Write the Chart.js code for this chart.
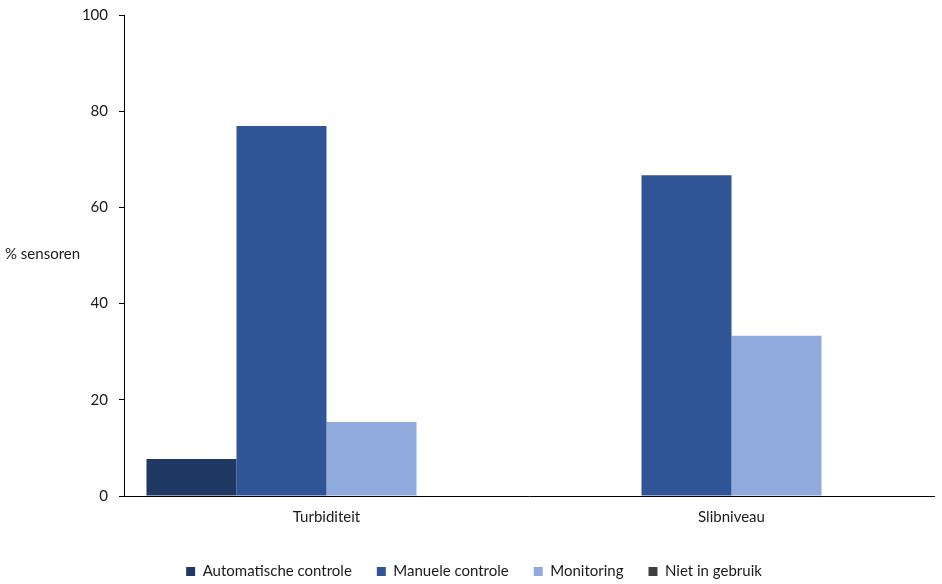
<!DOCTYPE html>
<html>
<head>
<meta charset="utf-8">
<script src="https://cdn.jsdelivr.net/npm/chart.js@4/dist/chart.umd.min.js"></script>
<style>
  html, body { margin: 0; padding: 0; background: #fff; }
  #wrap { width: 942px; height: 584px; position: relative; }
</style>
</head>
<body>
<div id="wrap"><canvas id="c"></canvas></div>
<script>
const categories = ["Turbiditeit", "Slibniveau"];
const automatischeControle = [7.7, 0];
const manueleControle = [76.9, 66.7];
const monitoring = [15.4, 33.3];
const nietInGebruik = [0, 0];
const yTicks = [0, 20, 40, 60, 80, 100];
const yTitle = "% sensoren";

const FONT = "Lato, 'Open Sans', sans-serif";
const TEXT = "#1a1a1a";

const yTitlePlugin = {
  id: 'yTitle',
  afterLayout(chart) {
    if (chart.legend) { chart.legend.left += 7; chart.legend.right += 7; }
  },
  afterDraw(chart) {
    const ctx = chart.ctx;
    const y = chart.scales.y;
    ctx.save();
    ctx.font = "15px " + FONT;
    ctx.fillStyle = TEXT;
    ctx.textAlign = "left";
    ctx.textBaseline = "middle";
    ctx.fillText(yTitle, 5, (y.top + y.bottom) / 2 - 1);
    ctx.restore();
  }
};

new Chart(document.getElementById('c'), {
  type: 'bar',
  data: {
    labels: categories,
    datasets: [
      { label: "Automatische controle", data: automatischeControle, backgroundColor: "#203864" },
      { label: "Manuele controle", data: manueleControle, backgroundColor: "#2F5597" },
      { label: "Monitoring", data: monitoring, backgroundColor: "#8FAADC" },
      { label: "Niet in gebruik", data: nietInGebruik, backgroundColor: "#404040" }
    ]
  },
  options: {
    responsive: true,
    maintainAspectRatio: false,
    animation: false,
    datasets: { bar: { categoryPercentage: 0.889, barPercentage: 1.0 } },
    layout: { padding: { top: 15, right: 8, left: 0, bottom: -5 } },
    plugins: {
      legend: {
        position: 'bottom',
        labels: {
          font: { size: 15, family: FONT },
          color: TEXT,
          boxWidth: 9,
          boxHeight: 9,
          padding: 25
        }
      },
      tooltip: { enabled: false }
    },
    scales: {
      x: {
        afterFit(scale) { scale.height += 1; },
        grid: { display: false, drawTicks: false },
        border: { display: true, color: "#000", width: 1 },
        ticks: { font: { size: 15, family: FONT }, color: TEXT, padding: 12 }
      },
      y: {
        min: 0, max: 100,
        afterBuildTicks(scale) { scale.ticks = yTicks.map(v => ({ value: v })); },
        afterFit(scale) { scale.width = 124; scale.paddingTop = 0; },
        grid: { display: true, drawOnChartArea: false, drawTicks: true, tickLength: 5, color: "#000" },
        border: { display: true, color: "#000", width: 1 },
        ticks: { font: { size: 15, family: FONT }, color: TEXT, padding: 11 }
      }
    }
  },
  plugins: [yTitlePlugin]
});
</script>
</body>
</html>
